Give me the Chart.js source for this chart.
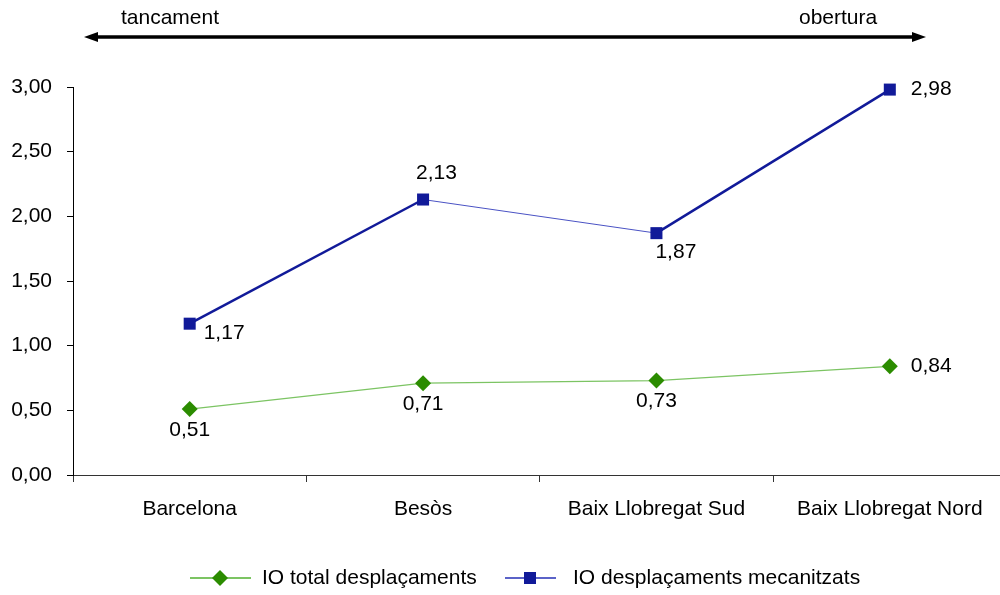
<!DOCTYPE html>
<html>
<head>
<meta charset="utf-8">
<script src="https://cdn.jsdelivr.net/npm/chart.js@4/dist/chart.umd.min.js"></script>
<style>
  html, body { margin: 0; padding: 0; background: #fff; overflow: hidden; }
  canvas { display: block; }
</style>
</head>
<body>
<canvas id="io-chart" width="1015" height="595"></canvas>
<script>
const categories = ["Barcelona", "Besòs", "Baix Llobregat Sud", "Baix Llobregat Nord"];
const ioTotal = [0.51, 0.71, 0.73, 0.84];
const ioMecanitzats = [1.17, 2.13, 1.87, 2.98];
const yTicks = [0, 0.5, 1, 1.5, 2, 2.5, 3];
const arrowLabels = ["tancament", "obertura"];

// where each value label sits relative to its point
const totalLabelPos = ["below", "below", "below", "right"];
const mecLabelPos = ["belowRight", "above", "belowLeft", "right"];

Chart.defaults.font.family = "'Liberation Sans', Arial, sans-serif";
Chart.defaults.font.size = 21;
Chart.defaults.color = "#000";

const FONT = "21px 'Liberation Sans', Arial, sans-serif";
const GREEN_LINE = "#7cc463";
const GREEN_MARK = "#2b8c00";
const BLUE = "#111a99";

const fmt = (v) => v.toFixed(2).replace(".", ",");

const valueLabels = {
  id: "valueLabels",
  afterDatasetsDraw(chart) {
    const ctx = chart.ctx;
    ctx.save();
    ctx.font = FONT;
    ctx.fillStyle = "#000";
    ctx.textBaseline = "middle";
    chart.data.datasets.forEach((ds, di) => {
      const meta = chart.getDatasetMeta(di);
      const pos = di === 0 ? totalLabelPos : mecLabelPos;
      meta.data.forEach((pt, i) => {
        const txt = fmt(ds.data[i]);
        let x = pt.x, y = pt.y;
        switch (pos[i]) {
          case "below": ctx.textAlign = "center"; y += 21; break;
          case "above": ctx.textAlign = "left"; x -= 7; y -= 26; break;
          case "right": ctx.textAlign = "left"; x += 21; break;
          case "belowRight": ctx.textAlign = "left"; x += 14; y += 10; break;
          case "belowLeft": ctx.textAlign = "left"; x -= 1; y += 19; break;
        }
        ctx.fillText(txt, x, y);
      });
    });
    ctx.restore();
  },
};

// arrow with "tancament" / "obertura" above the plot, plus the bottom legend
const decorations = {
  id: "decorations",
  afterDraw(chart) {
    const ctx = chart.ctx;
    const y = 37, x0 = 84, x1 = 926;
    ctx.save();
    ctx.strokeStyle = "#000";
    ctx.fillStyle = "#000";
    ctx.lineWidth = 3.5;
    ctx.beginPath();
    ctx.moveTo(x0 + 8, y);
    ctx.lineTo(x1 - 8, y);
    ctx.stroke();
    ctx.beginPath();
    ctx.moveTo(x0, y);
    ctx.lineTo(x0 + 14, y - 5);
    ctx.lineTo(x0 + 14, y + 5);
    ctx.closePath();
    ctx.fill();
    ctx.beginPath();
    ctx.moveTo(x1, y);
    ctx.lineTo(x1 - 14, y - 5);
    ctx.lineTo(x1 - 14, y + 5);
    ctx.closePath();
    ctx.fill();
    ctx.font = FONT;
    ctx.textBaseline = "middle";
    ctx.textAlign = "left";
    ctx.fillText(arrowLabels[0], 121, 18);
    ctx.fillText(arrowLabels[1], 799, 18);

    // legend
    const ly = 578;
    const ds = chart.data.datasets;
    ctx.lineWidth = 2;
    ctx.strokeStyle = GREEN_LINE;
    ctx.beginPath();
    ctx.moveTo(190, ly);
    ctx.lineTo(251, ly);
    ctx.stroke();
    ctx.fillStyle = GREEN_MARK;
    ctx.beginPath();
    ctx.moveTo(220, ly - 8);
    ctx.lineTo(228, ly);
    ctx.lineTo(220, ly + 8);
    ctx.lineTo(212, ly);
    ctx.closePath();
    ctx.fill();
    ctx.strokeStyle = "#5b63c8";
    ctx.beginPath();
    ctx.moveTo(505, ly);
    ctx.lineTo(556, ly);
    ctx.stroke();
    ctx.fillStyle = BLUE;
    ctx.fillRect(524, ly - 6, 12, 12);
    ctx.fillStyle = "#000";
    ctx.fillText(ds[0].label, 262, ly);
    ctx.fillText(ds[1].label, 573, ly);
    ctx.restore();
  },
};

const config = {
  type: "line",
  data: {
    labels: categories,
    datasets: [
      {
        label: "IO total desplaçaments",
        data: ioTotal,
        borderColor: GREEN_LINE,
        borderWidth: 1.2,
        pointStyle: "rectRot",
        pointRadius: 8,
        pointBackgroundColor: GREEN_MARK,
        pointBorderColor: GREEN_MARK,
        pointBorderWidth: 0,
        tension: 0,
        clip: false,
      },
      {
        label: "IO desplaçaments mecanitzats",
        data: ioMecanitzats,
        borderColor: BLUE,
        borderWidth: 2.5,
        segment: {
          borderWidth: (c) => (c.p0DataIndex === 1 ? 1 : 2.5),
          borderColor: (c) => (c.p0DataIndex === 1 ? "#4a52c4" : BLUE),
        },
        pointStyle: "rect",
        pointRadius: 8.5,
        pointBackgroundColor: BLUE,
        pointBorderColor: BLUE,
        pointBorderWidth: 0,
        tension: 0,
        clip: false,
      },
    ],
  },
  options: {
    responsive: false,
    animation: false,
    layout: {
      padding: { top: 87, left: 0, right: 0, bottom: 0 },
    },
    scales: {
      x: {
        offset: true,
        grid: {
          offset: true,
          drawOnChartArea: false,
          drawTicks: true,
          tickLength: 7,
          color: "#333",
        },
        border: { color: "#333", width: 1 },
        ticks: { padding: 15, maxRotation: 0, autoSkip: false },
        afterFit(scale) {
          scale.height = 120;
        },
      },
      y: {
        min: 0,
        max: 3,
        afterBuildTicks(scale) {
          scale.ticks = yTicks.map((v) => ({ value: v }));
        },
        grid: {
          drawOnChartArea: false,
          drawTicks: true,
          tickLength: 6,
          color: "#000",
        },
        border: { color: "#000", width: 1 },
        ticks: {
          padding: 15,
          callback: (v) => fmt(v),
        },
        afterFit(scale) {
          scale.width = 73;
        },
      },
    },
    plugins: {
      legend: { display: false },
      tooltip: { enabled: false },
    },
  },
  plugins: [valueLabels, decorations],
};

const ioChart = new Chart(document.getElementById("io-chart"), config);
</script>
</body>
</html>
